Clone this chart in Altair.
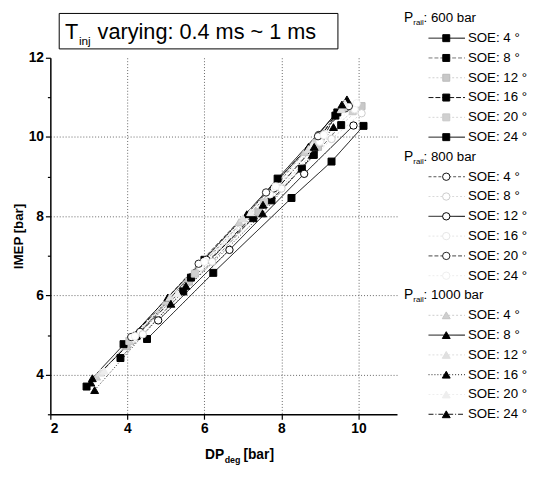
import altair as alt
import pandas as pd

FONT = "Liberation Sans"

pressures = ["600", "800", "1000"]
soe_values = [4, 8, 12, 16, 20, 24]

# DP_deg [bar] and IMEP [bar], one list pair per series (T_inj 0.4 ms -> 1 ms)
dp_600_4 = [4.51, 6.23, 8.26, 9.30, 10.13]
imep_600_4 = [4.90, 6.57, 8.46, 9.38, 10.28]
dp_600_8 = [3.82, 5.45, 7.27, 8.53, 9.55]
imep_600_8 = [4.42, 6.10, 7.95, 9.20, 10.30]
dp_600_12 = [3.98, 5.60, 7.40, 8.95, 10.08]
imep_600_12 = [4.72, 6.35, 8.10, 9.75, 10.78]
dp_600_16 = [3.90, 5.65, 7.74, 8.84, 9.40]
imep_600_16 = [4.77, 6.45, 8.40, 9.55, 10.54]
dp_600_20 = [4.05, 5.75, 7.55, 8.90, 9.85]
imep_600_20 = [4.85, 6.55, 8.35, 9.85, 10.65]
dp_600_24 = [2.94, 4.24, 6.00, 7.90, 9.45]
imep_600_24 = [3.70, 4.98, 6.90, 8.95, 10.62]

dp_800_4 = [4.33, 6.05, 7.80, 8.97, 9.65]
imep_800_4 = [5.08, 6.90, 8.70, 10.05, 10.72]
dp_800_8 = [4.40, 6.20, 8.00, 9.30, 10.08]
imep_800_8 = [5.02, 6.85, 8.70, 9.95, 10.60]
dp_800_12 = [4.80, 6.65, 8.59, 9.87]
imep_800_12 = [5.37, 7.15, 9.07, 10.29]
dp_800_16 = [4.15, 5.90, 7.70, 9.00, 9.90]
imep_800_16 = [4.92, 6.72, 8.55, 9.88, 10.70]
dp_800_20 = [4.10, 5.85, 7.60, 8.95, 9.75]
imep_800_20 = [4.95, 6.80, 8.60, 10.02, 10.78]
dp_800_24 = [4.20, 6.00, 7.85, 9.10, 9.95]
imep_800_24 = [4.97, 6.85, 8.75, 10.05, 10.85]

dp_1000_4 = [3.20, 5.00, 6.90, 8.60, 9.60]
imep_1000_4 = [3.95, 5.85, 7.85, 9.62, 10.75]
dp_1000_8 = [3.09, 5.05, 7.10, 8.70, 9.70]
imep_1000_8 = [3.91, 5.95, 8.05, 9.75, 10.95]
dp_1000_12 = [3.30, 5.10, 7.00, 8.70, 9.55]
imep_1000_12 = [4.05, 5.95, 7.95, 9.70, 10.70]
dp_1000_16 = [3.15, 5.13, 7.51, 8.80, 9.35]
imep_1000_16 = [3.61, 5.79, 8.07, 9.55, 10.25]
dp_1000_20 = [3.40, 5.30, 7.20, 8.80, 9.65]
imep_1000_20 = [4.10, 6.05, 8.10, 9.80, 10.85]
dp_1000_24 = [3.05, 5.52, 7.52, 8.85, 9.57]
imep_1000_24 = [3.80, 6.24, 8.29, 9.75, 10.82]

series_data = {
    "600_4": (dp_600_4, imep_600_4), "600_8": (dp_600_8, imep_600_8),
    "600_12": (dp_600_12, imep_600_12), "600_16": (dp_600_16, imep_600_16),
    "600_20": (dp_600_20, imep_600_20), "600_24": (dp_600_24, imep_600_24),
    "800_4": (dp_800_4, imep_800_4), "800_8": (dp_800_8, imep_800_8),
    "800_12": (dp_800_12, imep_800_12), "800_16": (dp_800_16, imep_800_16),
    "800_20": (dp_800_20, imep_800_20), "800_24": (dp_800_24, imep_800_24),
    "1000_4": (dp_1000_4, imep_1000_4), "1000_8": (dp_1000_8, imep_1000_8),
    "1000_12": (dp_1000_12, imep_1000_12), "1000_16": (dp_1000_16, imep_1000_16),
    "1000_20": (dp_1000_20, imep_1000_20), "1000_24": (dp_1000_24, imep_1000_24),
}

keys = [f"{p}_{s}" for p in pressures for s in soe_values]

# styles (scanned original: some series came out faint grey)
line_colors = ["#000000", "#777777", "#cfcfcf", "#111111", "#d5d5d5", "#000000",
               "#555555", "#d8d8d8", "#000000", "#e6e6e6", "#444444", "#ededed",
               "#cccccc", "#000000", "#dddddd", "#222222", "#eeeeee", "#111111"]
dashes = [[1, 0], [4, 2], [2, 2], [5, 2], [2, 2], [1, 0],
          [3, 2], [2, 2], [1, 0], [2, 2], [4, 2], [2, 2],
          [2, 2], [1, 0], [2, 2], [1, 2], [2, 2], [5, 2, 1, 2]]
fills = ["#000000", "#000000", "#c8c8c8", "#000000", "#d0d0d0", "#000000",
         "#ffffff", "#ffffff", "#ffffff", "#ffffff", "#ffffff", "#ffffff",
         "#cfcfcf", "#000000", "#e0e0e0", "#000000", "#eeeeee", "#000000"]
strokes = ["#000000", "#000000", "#bbbbbb", "#000000", "#c8c8c8", "#000000",
           "#111111", "#cccccc", "#000000", "#e6e6e6", "#222222", "#eeeeee",
           "#c4c4c4", "#000000", "#dddddd", "#000000", "#eeeeee", "#000000"]

rows = []
for k in keys:
    xs, ys = series_data[k]
    p = k.split("_")[0]
    for i, (xv, yv) in enumerate(zip(xs, ys)):
        rows.append({"key": k, "pressure": p, "idx": i, "DP": xv, "IMEP": yv})
df = pd.DataFrame(rows)

leg_rows = []
head_rows = []
for gi, p in enumerate(pressures):
    head_rows.append({"row": gi * 7, "ptext": f": {p} bar", "pressure": p})
    for j, s in enumerate(soe_values):
        leg_rows.append({"key": f"{p}_{s}", "pressure": p, "row": gi * 7 + 1 + j,
                         "label": f"SOE: {s} °"})
leg_df = pd.DataFrame(leg_rows)
head_df = pd.DataFrame(head_rows)

W, H = 352, 362

x_scale = alt.Scale(domain=[2, 11], nice=False, zero=False)
y_scale = alt.Scale(domain=[3, 12], nice=False, zero=False)

common_axis = dict(
    labelFont=FONT, labelFontSize=14, labelFontWeight="bold", labelColor="black",
    domainColor="black", domainWidth=1.5, tickColor="black", tickWidth=1.2,
    gridColor="#666666", gridDash=[1, 2], gridWidth=1,
)
x_axis = alt.Axis(
    values=list(range(2, 12)), title=None,
    labelExpr="datum.value % 2 == 0 ? datum.label : ''",
    tickSize={"condition": {"test": "datum.value % 2 == 1", "value": 3}, "value": 5},
    gridOpacity={"condition": {"test": "datum.value % 2 == 1 || datum.value == 2", "value": 0}, "value": 1},
    labelPadding=3, **common_axis,
)
y_axis = alt.Axis(
    values=list(range(3, 13)), title="IMEP [bar]",
    labelExpr="datum.value % 2 == 0 ? datum.label : ''",
    tickSize={"condition": {"test": "datum.value % 2 == 1", "value": 3}, "value": 5},
    gridOpacity={"condition": {"test": "datum.value % 2 == 1 || datum.value == 12", "value": 0}, "value": 1},
    labelPadding=2, titlePadding=3, titleFontSize=13.5, titleFontWeight="bold",
    titleFont=FONT, titleColor="black", **common_axis,
)

color_enc = alt.Color("key:N", scale=alt.Scale(domain=keys, range=line_colors), legend=None)
dash_enc = alt.StrokeDash("key:N", scale=alt.Scale(domain=keys, range=dashes), legend=None)
fill_enc = alt.Fill("key:N", scale=alt.Scale(domain=keys, range=fills), legend=None)
stroke_enc = alt.Stroke("key:N", scale=alt.Scale(domain=keys, range=strokes), legend=None)

base = alt.Chart(df)
lines = base.mark_line(strokeWidth=1).encode(
    x=alt.X("DP:Q", scale=x_scale, axis=x_axis),
    y=alt.Y("IMEP:Q", scale=y_scale, axis=y_axis),
    detail="key:N", color=color_enc, strokeDash=dash_enc, order="idx:Q",
)

marker_specs = [("600", "square", 50), ("800", "circle", 56), ("1000", "triangle-up", 64)]

def pts(p, shape, size):
    return base.transform_filter(alt.datum.pressure == p).mark_point(
        shape=shape, size=size, opacity=1, fillOpacity=1, strokeWidth=1
    ).encode(
        x=alt.X("DP:Q", scale=x_scale),
        y=alt.Y("IMEP:Q", scale=y_scale),
        fill=fill_enc, stroke=stroke_enc,
    )

main = alt.layer(lines, *[pts(p, s, z) for p, s, z in marker_specs])

# ---- legend & annotations (outside plot area) ----
leg_y = alt.Y("row:Q", scale=alt.Scale(domain=[0, 20], range=[-40, 362], nice=False, zero=False), axis=None)

leg_base = alt.Chart(leg_df)
leg_lines = leg_base.mark_rule(strokeWidth=1).encode(
    x=alt.value(384), x2=alt.value(421), y=leg_y, color=color_enc, strokeDash=dash_enc,
)

def leg_pts(p, shape, size):
    return leg_base.transform_filter(alt.datum.pressure == p).mark_point(
        shape=shape, size=size, opacity=1, fillOpacity=1, strokeWidth=1
    ).encode(x=alt.value(402), y=leg_y, fill=fill_enc, stroke=stroke_enc)

leg_text = leg_base.mark_text(align="left", baseline="middle", font=FONT, fontSize=13.5, color="black").encode(
    x=alt.value(424), y=leg_y, text="label:N"
)
head_base = alt.Chart(head_df)
head_P = head_base.mark_text(align="left", baseline="middle", font=FONT, fontSize=14, color="black", text="P").encode(
    x=alt.value(359), y=leg_y
)
head_sub = head_base.mark_text(align="left", baseline="middle", font=FONT, fontSize=8, color="black", text="rail", dy=5).encode(
    x=alt.value(368.5), y=leg_y
)
head_rest = head_base.mark_text(align="left", baseline="middle", font=FONT, fontSize=13.5, color="black").encode(
    x=alt.value(379), y=leg_y, text="ptext:N"
)

one = pd.DataFrame({"a": [0]})
ann = alt.Chart(one)
title_box = ann.mark_rect(fill="white", stroke="black", strokeWidth=1).encode(
    x=alt.value(9), x2=alt.value(292), y=alt.value(-45), y2=alt.value(-9)
)
title_T = ann.mark_text(align="left", baseline="alphabetic", font=FONT, fontSize=22, color="black", text="T").encode(
    x=alt.value(15), y=alt.value(-19)
)
title_inj = ann.mark_text(align="left", baseline="alphabetic", font=FONT, fontSize=12, color="black", text="inj").encode(
    x=alt.value(29), y=alt.value(-13)
)
title_rest = ann.mark_text(align="left", baseline="alphabetic", font=FONT, fontSize=22, color="black",
                           text="varying: 0.4 ms ~ 1 ms").encode(x=alt.value(48), y=alt.value(-19))

xt_DP = ann.mark_text(align="left", baseline="alphabetic", font=FONT, fontSize=14, fontWeight="bold", color="black", text="DP").encode(
    x=alt.value(157), y=alt.value(407)
)
xt_deg = ann.mark_text(align="left", baseline="alphabetic", font=FONT, fontSize=9, fontWeight="bold", color="black", text="deg").encode(
    x=alt.value(177), y=alt.value(411)
)
xt_bar = ann.mark_text(align="left", baseline="alphabetic", font=FONT, fontSize=14, fontWeight="bold", color="black", text="[bar]").encode(
    x=alt.value(196), y=alt.value(407)
)

legend = alt.layer(
    leg_lines, *[leg_pts(p, s, z) for p, s, z in marker_specs], leg_text,
    head_P, head_sub, head_rest,
    title_box, title_T, title_inj, title_rest, xt_DP, xt_deg, xt_bar,
)

chart = alt.layer(main, legend).resolve_scale(y="independent").properties(
    width=W, height=H,
    autosize=alt.AutoSizeParams(type="none"),
    padding={"left": 43, "top": 47, "right": 133, "bottom": 50},
).configure_view(strokeWidth=0)

chart.save("out.html", embed_options={"renderer": "svg", "actions": False})
